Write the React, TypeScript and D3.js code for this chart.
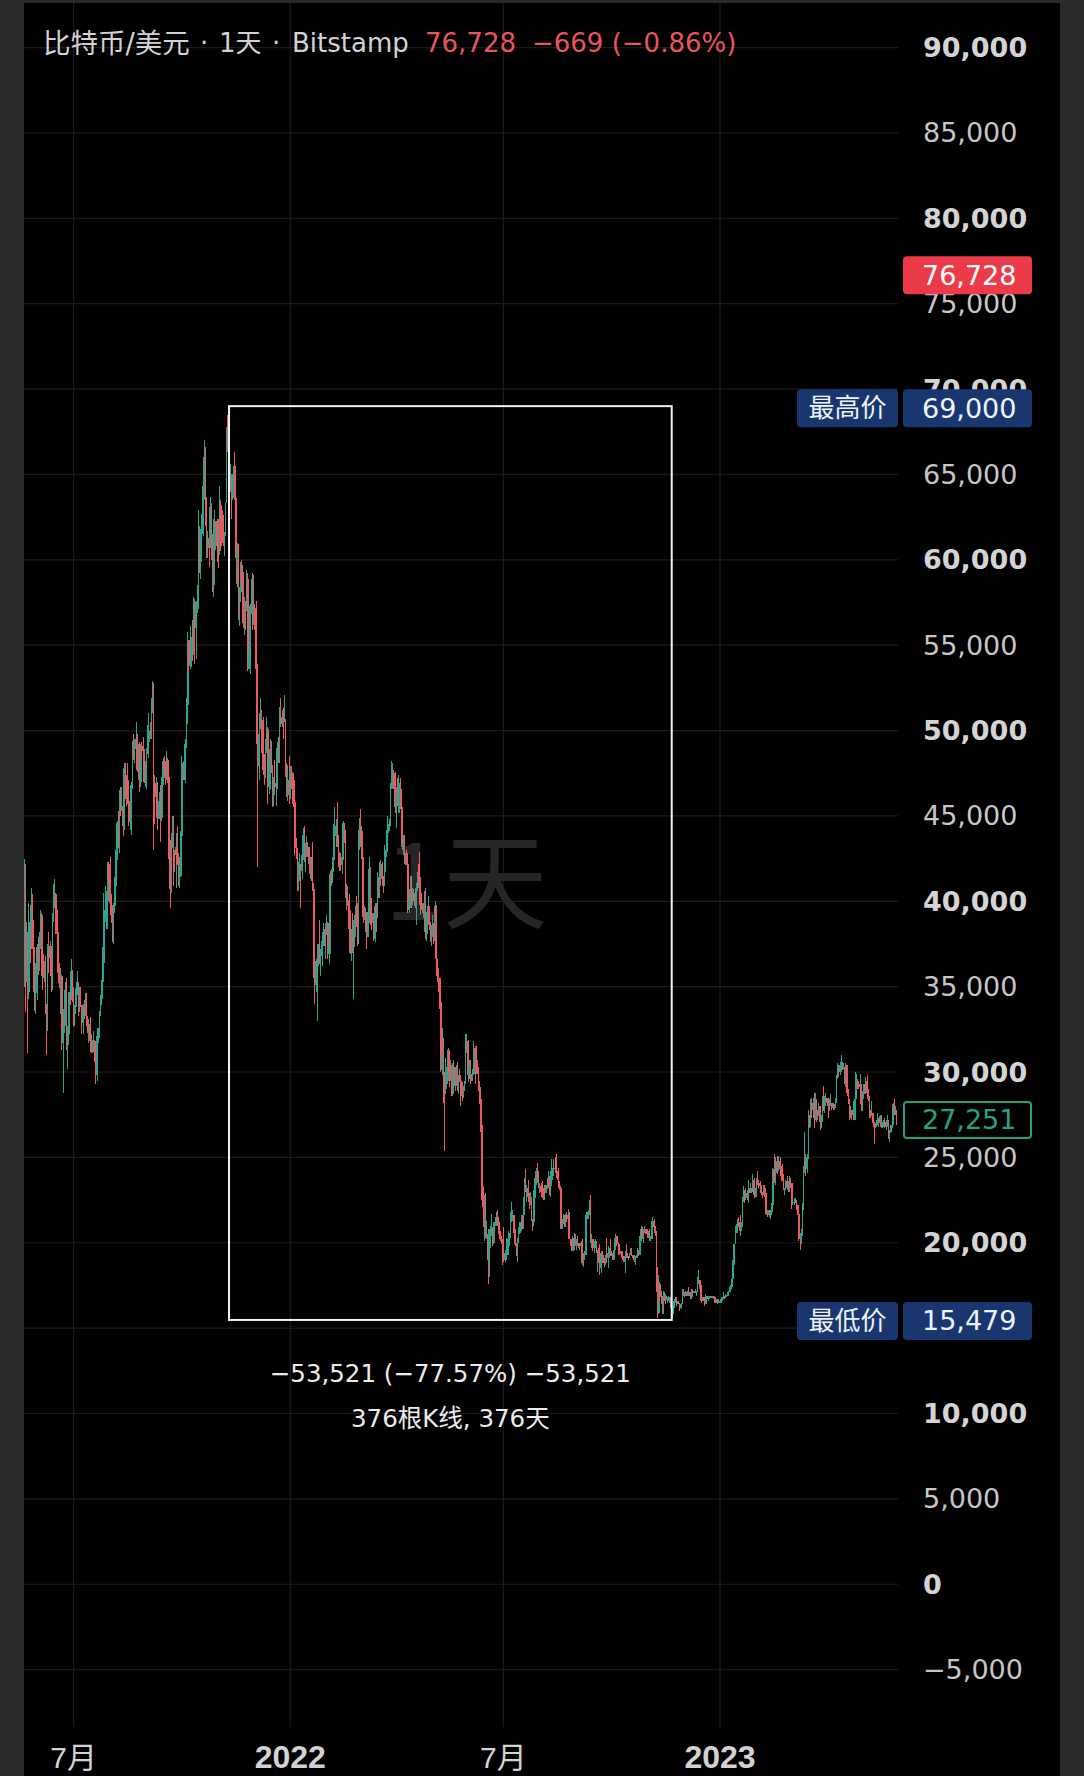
import React, { useMemo } from "react";
import * as d3 from "d3";

// ---------------- DATA ----------------
// Daily BTC/USD candles (Bitstamp), values in thousands of USD.
// Open of each candle = previous close; first candle open below.
const months = [
  "2021-05", "2021-06", "2021-07", "2021-08", "2021-09", "2021-10", "2021-11", "2021-12",
  "2022-01", "2022-02", "2022-03", "2022-04", "2022-05", "2022-06", "2022-07", "2022-08",
  "2022-09", "2022-10", "2022-11", "2022-12", "2023-01", "2023-02", "2023-03", "2023-04", "2023-05",
];
const firstDayOfData = 19;
const firstOpenK = 42.9;

const closeK: number[][] = [
  [37.0, 40.7, 37.3, 37.5, 34.7, 38.8, 38.3, 39.3, 38.5, 35.7, 34.6, 35.7, 37.3],
  [36.7, 37.6, 39.2, 36.9, 35.5, 35.8, 33.6, 33.4, 37.4, 36.7, 37.3, 35.6, 39.1, 40.2, 40.4, 38.3, 38.1, 35.8, 35.5, 35.6, 31.7, 32.5, 33.7, 34.7, 31.6, 32.2, 34.7, 34.5, 35.9, 35.0],
  [33.5, 33.8, 34.7, 35.3, 33.7, 34.2, 33.9, 32.9, 33.8, 33.5, 34.3, 33.1, 32.7, 32.8, 31.8, 31.4, 31.5, 31.8, 30.8, 29.8, 32.1, 32.3, 33.6, 34.3, 35.4, 37.3, 39.4, 40.0, 40.0, 42.2, 41.6],
  [39.9, 39.2, 38.2, 39.7, 40.9, 42.8, 44.6, 43.8, 46.3, 45.6, 45.6, 44.4, 47.8, 47.1, 47.0, 45.9, 44.7, 44.7, 46.8, 49.3, 48.9, 49.3, 49.5, 47.7, 49.0, 47.0, 49.1, 48.9, 48.8, 47.0, 47.2],
  [48.8, 49.3, 50.0, 49.9, 51.8, 52.7, 46.9, 46.1, 46.4, 44.9, 45.2, 46.1, 44.9, 47.1, 48.2, 47.8, 47.3, 48.3, 47.3, 43.0, 40.7, 43.6, 44.9, 42.8, 42.7, 43.2, 42.2, 41.0, 41.5, 43.8],
  [48.1, 47.7, 48.2, 49.2, 51.5, 55.3, 53.8, 53.9, 55.0, 54.7, 57.5, 56.0, 57.4, 57.4, 61.7, 60.9, 61.5, 62.0, 64.3, 66.0, 62.2, 60.7, 61.3, 60.9, 63.1, 60.4, 58.5, 60.6, 62.3, 61.9, 61.3],
  [61.0, 63.2, 62.9, 61.4, 61.0, 61.5, 63.3, 67.5, 66.9, 64.9, 64.9, 64.2, 64.4, 65.5, 63.6, 60.1, 60.4, 56.9, 58.1, 59.7, 58.7, 56.3, 57.6, 57.2, 58.9, 53.6, 54.8, 57.3, 57.8, 57.0],
  [57.2, 56.5, 53.6, 49.2, 49.4, 50.6, 50.6, 50.5, 47.7, 47.2, 49.4, 50.1, 46.7, 48.4, 48.9, 47.6, 46.2, 46.8, 46.7, 46.9, 49.0, 48.6, 50.8, 50.4, 50.8, 50.6, 50.7, 47.5, 46.5, 47.1, 46.2],
  [47.7, 47.3, 46.4, 45.8, 43.4, 43.1, 41.5, 41.7, 41.9, 41.8, 42.7, 43.9, 42.6, 43.1, 43.2, 43.1, 42.2, 42.4, 41.7, 40.7, 36.5, 35.1, 36.3, 36.7, 36.9, 36.8, 37.2, 37.7, 38.2, 37.9, 38.5],
  [38.7, 36.9, 37.3, 41.6, 41.4, 42.4, 43.8, 44.0, 44.4, 43.5, 42.4, 42.2, 42.1, 42.6, 44.6, 43.9, 40.5, 40.0, 40.1, 38.4, 37.0, 38.3, 37.3, 38.3, 39.2, 39.1, 37.7, 43.2],
  [44.4, 44.0, 42.5, 39.1, 39.4, 38.4, 37.9, 38.7, 41.9, 39.4, 38.8, 38.8, 37.8, 39.7, 39.3, 41.1, 40.9, 41.8, 42.2, 41.3, 41.0, 42.4, 42.9, 44.0, 44.3, 44.5, 46.8, 47.1, 47.5, 47.1, 45.5],
  [46.3, 45.8, 46.4, 46.6, 45.5, 43.2, 43.4, 42.3, 42.8, 42.2, 39.5, 40.1, 41.1, 39.9, 40.5, 40.4, 39.7, 40.8, 41.5, 41.4, 40.5, 39.7, 39.5, 39.5, 40.4, 38.1, 39.2, 39.7, 38.6, 37.6],
  [38.5, 38.5, 37.7, 39.7, 36.6, 36.0, 35.5, 34.1, 30.1, 31.0, 29.1, 29.0, 29.3, 29.9, 31.3, 29.9, 30.4, 28.7, 30.3, 29.2, 29.4, 30.3, 29.1, 29.6, 29.5, 29.2, 28.6, 29.0, 29.4, 31.7, 31.8],
  [29.8, 30.4, 29.7, 29.9, 29.9, 31.4, 31.1, 30.2, 30.1, 29.1, 28.4, 26.6, 22.5, 22.1, 22.6, 20.4, 20.5, 19.0, 20.6, 20.6, 20.7, 20.0, 21.1, 21.2, 21.5, 21.0, 20.7, 20.3, 20.1, 19.9],
  [19.3, 19.3, 19.3, 20.2, 20.2, 20.5, 21.6, 21.6, 21.6, 20.8, 19.9, 19.3, 20.2, 20.6, 20.8, 21.2, 20.8, 22.4, 23.4, 23.2, 23.2, 22.7, 22.4, 22.6, 21.3, 21.2, 22.9, 23.8, 23.8, 23.6, 23.3],
  [23.3, 23.0, 22.8, 22.6, 23.3, 23.2, 23.2, 23.8, 23.2, 23.9, 23.9, 24.4, 24.4, 24.3, 24.1, 23.9, 23.3, 23.2, 20.8, 21.1, 21.5, 21.4, 21.5, 21.4, 21.6, 20.2, 20.0, 19.5, 20.3, 19.8, 20.0],
  [20.1, 19.9, 19.8, 20.0, 19.8, 18.8, 19.3, 19.3, 21.4, 21.7, 21.8, 22.4, 20.2, 20.2, 19.7, 19.8, 20.1, 19.4, 19.5, 18.9, 18.5, 19.4, 19.3, 18.9, 18.8, 19.2, 19.1, 19.4, 19.6, 19.4],
  [19.3, 19.0, 19.6, 20.3, 20.2, 19.9, 19.5, 19.4, 19.4, 19.1, 19.0, 19.2, 19.4, 19.2, 19.1, 19.3, 19.5, 19.3, 19.1, 19.0, 19.2, 19.2, 19.6, 19.3, 20.1, 20.8, 20.3, 20.6, 20.8, 20.6, 20.5],
  [20.5, 20.2, 20.2, 21.1, 21.3, 20.9, 20.6, 18.5, 15.9, 17.6, 17.1, 16.8, 16.3, 16.6, 16.9, 16.7, 16.7, 16.7, 16.7, 16.3, 15.8, 16.2, 16.6, 16.6, 16.5, 16.5, 16.4, 16.2, 16.4, 17.2],
  [17.0, 17.1, 16.9, 17.1, 17.0, 17.1, 16.8, 17.2, 17.1, 17.1, 17.1, 17.2, 17.8, 17.8, 17.4, 16.6, 16.8, 16.7, 16.4, 16.9, 16.8, 16.8, 16.8, 16.8, 16.8, 16.9, 16.7, 16.5, 16.6, 16.6, 16.5],
  [16.6, 16.7, 16.7, 16.85, 16.8, 16.95, 16.95, 17.1, 17.2, 17.4, 17.9, 18.8, 19.9, 20.9, 20.9, 21.2, 21.1, 20.7, 21.1, 22.7, 22.8, 22.7, 22.9, 22.6, 23.1, 23.0, 23.1, 23.0, 23.7, 22.8, 23.1],
  [23.7, 23.5, 23.4, 23.3, 22.9, 22.8, 23.2, 22.9, 21.8, 21.6, 21.9, 21.8, 21.8, 22.2, 24.3, 23.5, 24.6, 24.6, 24.3, 24.8, 24.4, 24.2, 23.9, 23.2, 23.2, 23.6, 23.5, 23.1],
  [23.6, 23.5, 22.4, 22.4, 22.4, 22.4, 22.2, 21.7, 20.4, 20.2, 20.6, 22.2, 24.1, 24.7, 24.3, 25.0, 27.4, 26.9, 28.0, 27.8, 28.2, 27.3, 28.3, 27.5, 27.5, 28.0, 27.1, 27.3, 28.4, 28.0, 28.5],
  [28.5, 28.2, 27.8, 28.2, 28.2, 28.0, 27.9, 27.9, 28.3, 29.7, 30.2, 30.0, 30.4, 30.5, 30.3, 30.3, 29.4, 30.4, 28.8, 28.2, 27.3, 27.8, 27.6, 27.5, 28.3, 28.4, 29.5, 29.3, 29.2, 29.2],
  [28.1, 28.7, 29.0, 28.8, 29.5, 28.9, 28.5, 27.7, 27.6, 27.6, 27.0, 26.8, 26.8, 26.9, 27.2, 27.0, 27.4, 26.8, 26.9, 27.1, 26.8, 26.9, 27.2, 26.3, 26.5, 26.7, 26.9, 28.1, 27.7, 27.7, 27.2],
];

const highK: number[][] = [
  [43.5, 42.5, 42.2, 38.8, 38.2, 39.9, 39.8, 40.8, 40.4, 38.9, 37.3, 36.4, 37.5],
  [37.9, 38.2, 39.5, 39.3, 37.9, 36.5, 36.8, 34.0, 37.5, 38.2, 37.7, 37.4, 39.3, 41.0, 41.3, 40.5, 39.5, 38.2, 36.4, 36.1, 35.7, 33.3, 34.8, 35.3, 35.5, 32.7, 34.7, 35.3, 36.6, 36.0],
  [35.0, 33.9, 34.9, 35.9, 35.3, 35.0, 35.0, 33.9, 34.0, 34.2, 34.6, 34.6, 33.3, 33.1, 33.2, 32.2, 31.9, 32.4, 31.9, 31.0, 32.6, 32.6, 33.6, 34.5, 35.4, 40.5, 39.5, 40.9, 40.6, 42.3, 42.3],
  [42.6, 40.4, 39.8, 39.9, 41.4, 43.0, 44.7, 45.3, 46.5, 46.7, 46.7, 46.2, 48.1, 48.1, 47.4, 48.1, 47.1, 46.0, 47.0, 49.4, 49.8, 49.5, 50.5, 49.8, 49.2, 49.3, 49.2, 49.3, 49.6, 48.9, 48.2],
  [49.0, 50.3, 51.0, 50.5, 51.9, 52.9, 52.8, 47.4, 47.3, 47.0, 45.9, 46.4, 46.8, 47.3, 48.4, 48.5, 48.2, 48.8, 48.4, 47.3, 43.6, 44.0, 45.0, 45.0, 43.0, 44.0, 44.4, 42.8, 42.6, 44.1],
  [48.5, 48.2, 49.2, 49.5, 51.9, 55.8, 55.3, 56.1, 55.5, 56.5, 57.8, 57.7, 57.6, 58.5, 62.9, 62.0, 61.8, 62.7, 64.5, 67.0, 66.6, 63.7, 61.7, 61.5, 63.7, 63.3, 61.5, 62.4, 62.9, 62.3, 62.4],
  [62.4, 64.3, 63.5, 63.1, 62.6, 61.6, 63.3, 67.8, 68.5, 69.0, 65.6, 65.0, 65.0, 65.5, 66.3, 63.5, 61.0, 60.9, 58.4, 59.9, 60.0, 59.3, 57.8, 57.6, 59.4, 59.2, 55.3, 57.4, 58.9, 59.2],
  [59.1, 57.4, 57.6, 53.9, 49.8, 51.0, 51.9, 51.2, 50.8, 48.6, 49.5, 50.8, 50.2, 48.7, 49.5, 49.4, 48.0, 47.3, 48.3, 47.5, 49.3, 49.6, 51.4, 51.9, 51.2, 51.3, 52.1, 50.7, 48.1, 48.0, 48.5],
  [47.9, 47.9, 47.6, 47.5, 47.1, 43.7, 43.1, 42.3, 42.8, 42.2, 43.0, 44.3, 44.4, 43.4, 43.8, 43.5, 43.2, 42.6, 42.6, 43.5, 41.1, 36.8, 36.6, 37.5, 37.5, 38.9, 37.2, 38.0, 38.7, 38.4, 38.7],
  [39.2, 38.8, 37.5, 41.8, 41.9, 42.6, 44.5, 45.5, 44.8, 45.8, 43.9, 42.9, 42.8, 42.8, 44.7, 44.6, 44.2, 41.0, 40.9, 40.4, 39.5, 38.4, 39.3, 38.9, 39.7, 40.3, 39.9, 44.2],
  [44.9, 45.4, 44.1, 42.6, 39.7, 39.6, 39.4, 39.4, 42.6, 42.0, 40.2, 39.3, 39.3, 39.9, 39.9, 41.7, 41.4, 42.3, 42.4, 42.3, 41.5, 43.3, 43.0, 44.2, 45.0, 44.8, 46.9, 48.2, 48.1, 47.7, 47.6],
  [46.7, 47.2, 47.4, 46.9, 47.2, 45.5, 43.9, 43.9, 42.8, 43.0, 42.4, 40.7, 41.5, 41.5, 40.8, 40.7, 40.6, 41.1, 41.7, 42.2, 42.9, 40.8, 39.9, 39.9, 40.6, 40.8, 39.4, 40.3, 39.7, 38.8],
  [38.6, 39.2, 38.7, 40.0, 39.8, 36.6, 36.1, 35.5, 34.3, 32.6, 32.0, 30.0, 30.8, 30.3, 31.4, 31.3, 30.7, 30.4, 30.5, 30.7, 29.6, 30.4, 30.6, 29.8, 30.2, 29.8, 29.4, 29.2, 29.5, 32.2, 32.2],
  [31.9, 30.7, 30.7, 29.9, 30.2, 31.8, 31.5, 31.5, 30.7, 30.3, 29.5, 28.6, 26.9, 23.3, 22.8, 22.9, 21.3, 20.8, 20.8, 21.0, 21.7, 20.9, 21.2, 21.5, 21.8, 21.9, 21.5, 21.2, 20.4, 20.2],
  [20.9, 19.4, 19.6, 20.3, 20.7, 20.6, 21.8, 22.4, 21.9, 21.6, 20.8, 20.0, 20.3, 20.9, 21.2, 21.6, 21.6, 22.7, 23.8, 24.3, 23.4, 23.7, 22.9, 23.0, 22.7, 21.4, 23.1, 24.2, 24.4, 24.7, 24.2],
  [23.5, 23.5, 23.6, 23.2, 23.4, 23.4, 23.4, 24.2, 23.9, 24.2, 24.9, 24.4, 24.9, 25.0, 25.2, 24.2, 24.4, 23.6, 23.2, 21.4, 21.7, 21.6, 21.7, 21.8, 22.0, 21.8, 20.2, 20.2, 20.4, 20.6, 20.5],
  [20.2, 20.4, 20.0, 20.0, 20.1, 20.2, 19.4, 19.5, 21.6, 21.8, 21.9, 22.5, 22.8, 20.5, 20.2, 19.9, 20.2, 20.1, 19.6, 19.7, 19.9, 19.5, 19.5, 19.3, 19.1, 19.3, 20.3, 19.8, 19.7, 20.2],
  [19.5, 19.4, 19.7, 20.5, 20.4, 20.4, 20.0, 19.6, 19.5, 19.5, 19.2, 19.2, 19.5, 19.9, 19.2, 19.4, 19.7, 19.7, 19.3, 19.3, 19.2, 19.3, 19.7, 19.6, 20.4, 21.0, 20.9, 20.8, 21.0, 20.8, 20.8],
  [20.7, 20.8, 20.4, 21.3, 21.5, 21.4, 21.0, 20.7, 18.6, 18.1, 17.7, 17.2, 16.9, 17.2, 17.1, 17.0, 16.8, 16.9, 16.8, 16.8, 16.3, 16.3, 16.7, 16.8, 16.8, 16.6, 16.6, 16.5, 16.5, 17.3],
  [17.3, 17.1, 17.2, 17.2, 17.4, 17.1, 17.1, 17.3, 17.3, 17.2, 17.3, 17.2, 18.0, 18.4, 17.8, 17.5, 16.8, 16.8, 16.8, 17.0, 16.9, 16.9, 16.9, 16.9, 16.9, 16.9, 16.9, 16.8, 16.7, 16.7, 16.7],
  [16.6, 16.8, 16.8, 17.1, 16.9, 17.0, 17.0, 17.2, 17.4, 17.5, 17.9, 19.0, 19.9, 21.0, 21.1, 21.4, 21.5, 21.6, 21.2, 22.7, 23.3, 23.1, 23.2, 23.1, 23.7, 23.2, 23.5, 23.2, 24.0, 23.8, 23.2],
  [23.8, 24.2, 23.7, 23.6, 23.4, 23.0, 23.4, 23.4, 23.0, 21.9, 21.9, 21.9, 21.9, 22.3, 24.4, 25.2, 25.0, 24.8, 25.1, 25.1, 25.0, 24.5, 24.6, 24.0, 23.2, 23.7, 23.9, 23.6],
  [23.9, 23.8, 23.5, 22.5, 22.6, 22.6, 22.5, 22.0, 21.8, 20.5, 20.8, 22.3, 24.5, 26.5, 25.2, 25.2, 27.8, 27.5, 28.4, 28.5, 28.5, 28.8, 28.8, 28.4, 27.8, 28.2, 28.0, 27.5, 28.6, 29.2, 28.6],
  [28.8, 28.5, 28.5, 28.4, 28.7, 28.2, 28.2, 28.1, 28.5, 29.8, 30.5, 30.4, 30.6, 31.0, 30.6, 30.5, 30.3, 30.5, 30.4, 29.0, 28.4, 28.0, 27.8, 27.8, 28.4, 30.0, 29.9, 29.6, 29.4, 29.9],
  [29.3, 28.9, 29.3, 29.3, 29.7, 29.8, 29.0, 28.6, 27.8, 28.3, 27.6, 27.1, 27.0, 27.2, 27.6, 27.3, 27.5, 27.5, 27.1, 27.2, 27.3, 27.1, 27.5, 27.2, 26.6, 26.9, 26.9, 28.2, 28.4, 28.0, 27.8],
];

const lowK: number[][] = [
  [30.0, 35.0, 33.5, 35.3, 31.1, 34.3, 36.4, 37.2, 37.2, 34.7, 33.6, 33.4, 34.2],
  [35.7, 35.9, 37.2, 35.6, 34.8, 35.3, 33.4, 31.0, 32.4, 35.8, 35.9, 34.7, 34.8, 38.8, 39.6, 38.1, 37.4, 35.2, 34.9, 33.4, 31.3, 28.8, 32.3, 32.7, 31.3, 30.2, 32.0, 33.9, 34.2, 34.1],
  [32.7, 32.7, 33.4, 34.5, 33.3, 33.5, 33.8, 32.2, 32.2, 33.1, 33.3, 32.7, 32.3, 31.7, 31.2, 31.1, 31.1, 31.2, 30.6, 29.3, 29.5, 31.7, 32.0, 33.3, 33.9, 35.3, 36.4, 38.8, 38.4, 38.4, 41.1],
  [39.5, 38.7, 37.6, 37.5, 39.3, 40.6, 42.4, 43.1, 42.8, 45.0, 45.3, 43.8, 44.2, 46.0, 45.6, 45.7, 44.4, 44.2, 43.9, 46.6, 48.3, 48.1, 49.0, 47.6, 47.1, 46.4, 46.7, 48.3, 47.8, 46.9, 46.7],
  [46.6, 48.6, 48.4, 49.5, 49.5, 51.0, 43.0, 44.5, 45.9, 44.2, 44.8, 44.8, 43.5, 44.7, 46.8, 47.2, 46.8, 47.1, 46.9, 42.5, 39.6, 40.5, 43.1, 40.9, 41.7, 40.8, 42.1, 40.9, 40.8, 41.4],
  [43.3, 47.1, 47.1, 46.9, 49.0, 50.4, 53.4, 53.6, 53.7, 54.1, 54.4, 53.9, 54.2, 56.9, 57.1, 59.2, 58.9, 59.9, 61.4, 63.5, 62.0, 60.1, 60.1, 59.6, 60.7, 60.0, 58.1, 57.8, 60.2, 60.8, 59.9],
  [59.5, 60.3, 60.5, 60.8, 60.8, 60.2, 61.4, 63.3, 66.3, 62.8, 64.0, 62.4, 63.5, 63.6, 63.5, 58.6, 58.4, 56.5, 56.1, 57.5, 58.5, 56.0, 55.6, 55.9, 57.0, 53.5, 53.6, 53.3, 56.8, 55.9],
  [56.2, 55.9, 52.1, 42.0, 47.9, 47.1, 50.1, 48.7, 47.4, 46.8, 47.2, 48.7, 45.7, 46.3, 46.6, 47.5, 45.5, 45.6, 46.5, 45.6, 46.6, 48.1, 48.1, 50.2, 50.2, 49.5, 50.5, 47.3, 46.1, 45.9, 45.7],
  [46.0, 46.6, 45.7, 45.5, 42.7, 42.5, 40.6, 40.6, 41.2, 39.6, 41.3, 42.4, 42.3, 41.7, 42.6, 42.6, 41.6, 41.3, 41.2, 40.6, 35.5, 34.0, 34.7, 33.0, 36.2, 36.3, 35.6, 36.2, 37.4, 37.4, 36.6],
  [38.0, 36.6, 36.3, 36.9, 40.9, 41.1, 41.7, 42.8, 43.2, 43.2, 42.0, 41.8, 41.8, 41.6, 42.4, 43.4, 40.2, 39.5, 39.7, 38.2, 36.9, 36.5, 37.0, 34.3, 37.9, 38.5, 37.4, 37.5],
  [43.0, 43.4, 41.9, 38.7, 38.9, 38.2, 37.2, 37.9, 38.7, 38.6, 38.3, 38.7, 37.7, 37.6, 38.2, 39.0, 40.2, 40.2, 41.7, 40.9, 40.5, 40.9, 41.7, 42.6, 43.6, 44.1, 44.4, 46.6, 46.6, 46.6, 45.2],
  [44.3, 45.6, 45.2, 45.2, 45.4, 43.0, 42.7, 42.2, 42.1, 42.1, 39.3, 39.3, 39.6, 39.6, 39.8, 40.0, 39.6, 38.6, 40.6, 40.8, 39.8, 39.2, 39.3, 39.0, 38.2, 37.8, 37.7, 38.9, 38.3, 37.6],
  [37.4, 37.9, 37.5, 37.6, 35.6, 35.3, 34.7, 33.7, 30.0, 29.8, 28.2, 25.4, 28.7, 29.0, 29.5, 29.1, 29.5, 28.6, 28.6, 28.8, 28.9, 29.2, 28.9, 28.7, 29.4, 28.0, 28.3, 28.5, 28.9, 29.3, 31.1],
  [29.4, 29.6, 29.3, 29.5, 29.5, 29.9, 29.3, 29.9, 29.9, 28.9, 28.1, 26.5, 22.1, 20.9, 20.1, 20.3, 20.2, 17.6, 18.0, 19.7, 20.4, 19.8, 19.9, 21.0, 21.0, 21.0, 20.5, 20.2, 19.9, 18.7],
  [18.9, 19.0, 18.9, 19.0, 19.3, 19.8, 20.3, 21.2, 21.3, 20.6, 19.8, 19.2, 18.9, 20.0, 20.5, 20.7, 20.8, 20.8, 21.6, 23.0, 22.4, 22.5, 22.0, 22.2, 21.3, 20.7, 21.0, 22.6, 23.4, 23.5, 23.2],
  [22.9, 22.7, 22.6, 22.5, 22.5, 22.9, 22.9, 23.2, 22.8, 22.7, 23.3, 23.7, 24.3, 24.1, 23.8, 23.7, 23.2, 23.1, 20.8, 20.8, 21.1, 20.9, 20.9, 21.2, 21.3, 20.2, 19.8, 19.5, 19.6, 19.6, 19.9],
  [19.6, 19.8, 19.7, 19.6, 19.6, 18.7, 18.6, 19.0, 19.3, 21.0, 21.4, 21.6, 20.0, 19.7, 19.5, 19.4, 19.7, 19.4, 18.3, 18.8, 18.1, 18.2, 18.8, 18.8, 18.6, 18.7, 18.9, 18.5, 19.1, 19.2],
  [19.2, 19.0, 19.0, 19.6, 19.8, 19.9, 19.3, 19.3, 19.3, 19.0, 18.9, 18.9, 18.2, 19.1, 19.0, 19.1, 19.3, 19.2, 19.1, 18.9, 18.7, 19.1, 19.1, 19.2, 19.3, 20.1, 20.2, 20.0, 20.6, 20.5, 20.3],
  [20.3, 20.1, 20.1, 20.2, 21.0, 20.9, 20.4, 17.1, 15.6, 15.8, 16.6, 16.4, 15.8, 15.8, 16.6, 16.4, 16.5, 16.6, 16.5, 16.2, 15.479, 15.6, 16.2, 16.5, 16.3, 16.4, 16.4, 16.0, 16.1, 16.4],
  [16.9, 16.8, 16.9, 16.9, 16.9, 16.9, 16.7, 16.7, 17.0, 17.1, 17.1, 16.9, 17.1, 17.6, 17.3, 16.5, 16.6, 16.6, 16.3, 16.4, 16.7, 16.6, 16.7, 16.8, 16.8, 16.8, 16.6, 16.5, 16.5, 16.4, 16.5],
  [16.5, 16.5, 16.6, 16.7, 16.7, 16.8, 16.9, 16.9, 17.1, 17.1, 17.3, 17.8, 18.7, 19.9, 20.6, 20.6, 20.9, 20.4, 20.7, 20.9, 22.4, 22.3, 22.5, 22.5, 22.3, 22.9, 22.9, 22.9, 23.0, 22.6, 22.7],
  [22.7, 23.4, 23.2, 23.2, 22.8, 22.6, 22.8, 22.7, 21.7, 21.5, 21.6, 21.5, 21.4, 21.6, 22.2, 23.5, 23.4, 24.1, 24.0, 24.2, 23.9, 23.6, 23.6, 23.1, 22.8, 23.1, 23.1, 23.0],
  [23.0, 23.2, 22.0, 22.2, 22.2, 22.3, 21.9, 21.6, 20.1, 19.6, 19.9, 20.4, 21.9, 24.2, 23.9, 24.1, 24.9, 26.7, 26.8, 27.3, 27.4, 26.7, 27.2, 27.1, 27.2, 27.4, 26.6, 26.7, 27.1, 27.7, 27.6],
  [28.2, 28.0, 27.3, 27.7, 28.0, 27.8, 27.8, 27.8, 27.9, 28.2, 29.6, 29.7, 29.8, 30.0, 30.1, 30.2, 29.3, 29.1, 28.6, 28.1, 27.2, 27.3, 27.2, 27.2, 27.2, 27.2, 28.4, 29.0, 29.0, 29.1],
  [27.7, 27.7, 28.4, 28.7, 28.7, 28.4, 28.3, 27.3, 27.3, 27.4, 26.8, 25.8, 26.7, 26.8, 26.9, 26.8, 26.8, 26.7, 26.7, 26.8, 26.7, 26.6, 26.8, 26.1, 25.9, 26.4, 26.6, 26.9, 27.5, 27.5, 26.9],
];

const gridValues = [90000, 85000, 80000, 75000, 70000, 65000, 60000, 55000, 50000, 45000, 40000, 35000, 30000, 25000, 20000, 15000, 10000, 5000, 0, -5000];
// 15,000 sits fully under the low-price tag in the reference, so it has no visible label
const yLabelValues = [90000, 85000, 80000, 75000, 70000, 65000, 60000, 55000, 50000, 45000, 40000, 35000, 30000, 25000, 20000, 10000, 5000, 0, -5000];
const xTickDates = ["2021-07-01", "2022-01-01", "2022-07-01", "2023-01-01"];
const xTickLabels = ["7月", "2022", "7月", "2023"];

const titleSymbol = "比特币/美元";
const titleInterval = "1天";
const titleExchange = "Bitstamp";
const lastPrice = 76728;
const lastChange = "−669 (−0.86%)";
const highPrice = 69000;
const lowPrice = 15479;
const currentPrice = 27251;
const highLabel = "最高价";
const lowLabel = "最低价";
const rangeStart = "2021-11-10";
const rangeEnd = "2022-11-21";
const rangeLine1 = "−53,521 (−77.57%) −53,521";
const rangeLine2 = "376根K线, 376天";
const watermark = "1天";

// ---------------- STYLE ----------------
const W = 1084;
const H = 1776;
const FRAME = "#2a2a2a";
const BG = "#000000";
const GRID = "#1b1b1b";
const UP = "#2aa58f";
const DOWN = "#ec5a60";
const TEXT = "#d2d2d2";
const RED_TXT = "#e8555c";
const BLUE = "#19376e";
const FONT = "'DejaVu Sans', 'Noto Sans CJK SC', sans-serif";

const fmt = (v: number) => d3.format(",")(v).replace("-", "−");
const parseDate = (s: string) => {
  const [a, b, c] = s.split("-").map(Number);
  return new Date(Date.UTC(a, b - 1, c));
};

export default function App() {
  const paneL = 24, paneR = 898, frameR = 1060, top = 3, paneB = 1727;

  const x = d3.scaleUtc().domain([parseDate("2021-07-01"), parseDate("2023-01-01")]).range([73.6, 720]);
  const y = d3.scaleLinear().domain([90000, -5000]).range([47.6, 1669.6]);

  const candles = useMemo(() => {
    const out: { date: Date; o: number; h: number; l: number; c: number }[] = [];
    let prev = firstOpenK;
    months.forEach((m, mi) => {
      const [yy, mm] = m.split("-").map(Number);
      const start = mi === 0 ? firstDayOfData : 1;
      closeK[mi].forEach((c, i) => {
        const o = prev;
        const h = Math.max(highK[mi][i], o, c);
        const l = Math.min(lowK[mi][i], o, c);
        out.push({ date: new Date(Date.UTC(yy, mm - 1, start + i)), o: o * 1000, h: h * 1000, l: l * 1000, c: c * 1000 });
        prev = c;
      });
    });
    return out;
  }, []);

  const boxX0 = x(parseDate(rangeStart));
  const boxX1 = x(parseDate(rangeEnd));
  const boxY0 = y(highPrice);
  const boxY1 = y(lowPrice);
  const boxCx = (boxX0 + boxX1) / 2;

  const tagX = 903, tagW = 129, tagH = 38;
  const nameX = 797, nameW = 101;

  return (
    <div>
      <style>{`body{margin:0;background:#000}`}</style>
      <svg width={W} height={H} style={{ display: "block" }} fontFamily={FONT}>
        <defs>
          <clipPath id="pane">
            <rect x={paneL} y={top} width={paneR - paneL + 2} height={paneB - top} />
          </clipPath>
        </defs>
        <rect x={0} y={0} width={W} height={H} fill={FRAME} />
        <rect x={paneL} y={top} width={frameR - paneL} height={H - top} fill={BG} />

        {/* grid */}
        {gridValues.map((v) => (
          <line key={"h" + v} x1={paneL} x2={paneR} y1={y(v)} y2={y(v)} stroke={GRID} strokeWidth={1.2} />
        ))}
        {xTickDates.map((d) => (
          <line key={"v" + d} x1={x(parseDate(d))} x2={x(parseDate(d))} y1={top} y2={paneB} stroke={GRID} strokeWidth={1.2} />
        ))}

        {/* watermark */}
        <text x={466} y={920} fontSize={105} fill="#262626" textAnchor="middle" fontFamily="'Noto Sans CJK SC', sans-serif">
          {watermark}
        </text>

        {/* candles */}
        <g clipPath="url(#pane)" shapeRendering="crispEdges">
          {candles.map((d, i) => {
            const cx = x(d.date);
            const col = d.c >= d.o ? UP : DOWN;
            const yo = y(d.o), yc = y(d.c);
            const bt = Math.min(yo, yc);
            const bh = Math.max(1, Math.abs(yo - yc));
            return (
              <g key={i} fill={col}>
                <rect x={cx - 0.5} y={y(d.h)} width={1} height={Math.max(1, y(d.l) - y(d.h))} />
                <rect x={cx - 0.8} y={bt} width={1.6} height={bh} />
              </g>
            );
          })}
        </g>

        {/* range box */}
        <rect x={boxX0} y={boxY0} width={boxX1 - boxX0} height={boxY1 - boxY0} fill="none" stroke="#f2f2f2" strokeWidth={2} />
        <text x={boxCx} y={boxY1 + 54} fontSize={24.5} fill="#ececec" textAnchor="middle" dominantBaseline="central">
          {rangeLine1}
        </text>
        <text x={boxCx} y={boxY1 + 99} fontSize={24.5} fill="#ececec" textAnchor="middle" dominantBaseline="central">
          {rangeLine2}
        </text>

        {/* title */}
        <g dominantBaseline="central">
          <text x={43} y={43} fontSize={27.5} fill={TEXT}>{titleSymbol}</text>
          <text x={200} y={43} fontSize={26} fill={TEXT}>·</text>
          <text x={219} y={43} fontSize={26} fill={TEXT}>{titleInterval}</text>
          <text x={272} y={43} fontSize={26} fill={TEXT}>·</text>
          <text x={292} y={43} fontSize={26} fill={TEXT}>{titleExchange}</text>
          <text x={425} y={43} fontSize={26} fill={RED_TXT}>{fmt(lastPrice)}</text>
          <text x={532} y={43} fontSize={26} fill={RED_TXT}>{lastChange}</text>
        </g>

        {/* price axis labels */}
        {yLabelValues.map((v) => (
          <text
            key={"t" + v}
            x={923}
            y={y(v)}
            fontSize={27}
            fontWeight={v % 10000 === 0 ? "bold" : "normal"}
            fill={v % 10000 === 0 ? "#d4d4d4" : "#c6c6c6"}
            dominantBaseline="central"
          >
            {fmt(v)}
          </text>
        ))}

        {/* last price tag */}
        <rect x={tagX} y={y(lastPrice) + 1 - tagH / 2} width={tagW} height={tagH} rx={4} fill="#eb3a48" />
        <text x={922} y={y(lastPrice) + 1} fontSize={27} fill="#ffffff" dominantBaseline="central">{fmt(lastPrice)}</text>

        {/* high tag */}
        <rect x={nameX} y={y(highPrice) + 2 - tagH / 2} width={nameW} height={tagH} rx={4} fill={BLUE} />
        <text x={nameX + nameW / 2} y={y(highPrice) + 2} fontSize={26} fill="#eef2fa" textAnchor="middle" dominantBaseline="central">{highLabel}</text>
        <rect x={tagX} y={y(highPrice) + 2 - tagH / 2} width={tagW} height={tagH} rx={4} fill={BLUE} />
        <text x={922} y={y(highPrice) + 2} fontSize={27} fill="#eef2fa" dominantBaseline="central">{fmt(highPrice)}</text>

        {/* current tag */}
        <rect x={tagX + 1} y={y(currentPrice) + 1 - tagH / 2 + 1} width={tagW - 2} height={tagH - 2} rx={3} fill="#000" stroke="#22a083" strokeWidth={2} />
        <text x={922} y={y(currentPrice) + 1} fontSize={27} fill="#25a183" dominantBaseline="central">{fmt(currentPrice)}</text>

        {/* low tag */}
        <rect x={nameX} y={y(lowPrice) + 1 - tagH / 2} width={nameW} height={tagH} rx={4} fill={BLUE} />
        <text x={nameX + nameW / 2} y={y(lowPrice) + 1} fontSize={26} fill="#eef2fa" textAnchor="middle" dominantBaseline="central">{lowLabel}</text>
        <rect x={tagX} y={y(lowPrice) + 1 - tagH / 2} width={tagW} height={tagH} rx={4} fill={BLUE} />
        <text x={922} y={y(lowPrice) + 1} fontSize={27} fill="#eef2fa" dominantBaseline="central">{fmt(lowPrice)}</text>

        {/* time axis labels */}
        {xTickDates.map((d, i) => {
          const isYear = /^\d{4}$/.test(xTickLabels[i]);
          return (
            <text
              key={"x" + d}
              x={x(parseDate(d))}
              y={1757}
              fontSize={isYear ? 32 : 30}
              fontWeight={isYear ? "bold" : "normal"}
              fontFamily="'Liberation Sans', 'Noto Sans CJK SC', sans-serif"
              fill="#d2d2d2"
              textAnchor="middle"
              dominantBaseline="central"
            >
              {xTickLabels[i]}
            </text>
          );
        })}
      </svg>
    </div>
  );
}
